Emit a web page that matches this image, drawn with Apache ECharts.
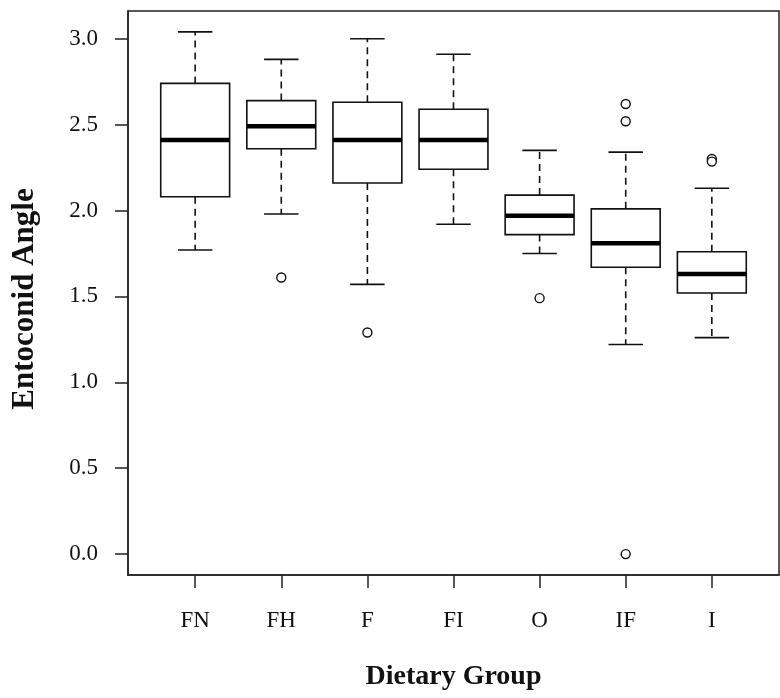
<!DOCTYPE html>
<html>
<head>
<meta charset="utf-8">
<script src="https://cdn.jsdelivr.net/npm/echarts@6/dist/echarts.min.js"></script>
<style>
  html, body { margin: 0; padding: 0; background: #fff; }
  #chart { width: 780px; height: 698px; }
</style>
</head>
<body>
<div id="chart"></div>
<script>
// Dietary groups, in plotting order
const groups = ['FN', 'FH', 'F', 'FI', 'O', 'IF', 'I'];

// Five-number summaries per group (entoconid angle)
const whiskerLow  = [1.77, 1.98, 1.57, 1.92, 1.75, 1.22, 1.26];
const quartile1   = [2.08, 2.36, 2.16, 2.24, 1.86, 1.67, 1.52];
const medians     = [2.41, 2.49, 2.41, 2.41, 1.97, 1.81, 1.63];
const quartile3   = [2.74, 2.64, 2.63, 2.59, 2.09, 2.01, 1.76];
const whiskerHigh = [3.04, 2.88, 3.00, 2.91, 2.35, 2.34, 2.13];

// Outlying observations: group index (0-based) and value
const outlierGroup = [1, 2, 4, 5, 5, 5, 6, 6];
const outlierValue = [1.61, 1.29, 1.49, 2.62, 2.52, 0.00, 2.30, 2.285];

// Y-axis tick values
const yTicks = [0.0, 0.5, 1.0, 1.5, 2.0, 2.5, 3.0];

const FONT = "'Liberation Serif', 'Times New Roman', serif";
const INK = '#111';

const boxData = groups.map((g, i) => [i + 1, whiskerLow[i], quartile1[i], medians[i], quartile3[i], whiskerHigh[i]]);
const outlierData = outlierGroup.map((g, k) => [g + 1, outlierValue[k]]);

function renderBox(params, api) {
  const x = api.value(0);
  const pMin = api.coord([x, api.value(1)]);
  const pQ1 = api.coord([x, api.value(2)]);
  const pMed = api.coord([x, api.value(3)]);
  const pQ3 = api.coord([x, api.value(4)]);
  const pMax = api.coord([x, api.value(5)]);
  const half = api.size([0.4, 0])[0];
  const cap = api.size([0.2, 0])[0];
  const cx = pMed[0];
  const solid = { stroke: INK, lineWidth: 1.6, fill: null };
  const dashed = { stroke: INK, lineWidth: 1.6, lineDash: [7, 5] };
  return {
    type: 'group',
    children: [
      { type: 'line', shape: { x1: cx, y1: pQ3[1], x2: cx, y2: pMax[1] }, style: dashed },
      { type: 'line', shape: { x1: cx, y1: pQ1[1], x2: cx, y2: pMin[1] }, style: dashed },
      { type: 'line', shape: { x1: cx - cap, y1: pMax[1], x2: cx + cap, y2: pMax[1] }, style: solid },
      { type: 'line', shape: { x1: cx - cap, y1: pMin[1], x2: cx + cap, y2: pMin[1] }, style: solid },
      { type: 'rect', shape: { x: cx - half, y: pQ3[1], width: half * 2, height: pQ1[1] - pQ3[1] },
        style: { stroke: INK, lineWidth: 1.6, fill: '#fff' } },
      { type: 'line', shape: { x1: cx - half, y1: pMed[1], x2: cx + half, y2: pMed[1] },
        style: { stroke: '#000', lineWidth: 4.5 } }
    ]
  };
}

const chart = echarts.init(document.getElementById('chart'), null, { renderer: 'canvas' });

chart.setOption({
  backgroundColor: '#fff',
  animation: false,
  grid: {
    left: 128, right: 1, top: 11, bottom: 123,
    show: true, borderColor: '#222', borderWidth: 1.5, backgroundColor: 'transparent'
  },
  xAxis: {
    type: 'value',
    min: 0.22, max: 7.78,
    name: 'Dietary Group',
    nameLocation: 'middle',
    nameGap: 88,
    nameTextStyle: { fontFamily: FONT, fontWeight: 'bold', fontSize: 28, color: INK },
    axisLine: { show: true, onZero: false, lineStyle: { color: '#222', width: 1.5 } },
    axisTick: { show: true, length: 13, customValues: groups.map((g, i) => i + 1), lineStyle: { color: '#222', width: 1.5 } },
    axisLabel: {
      customValues: groups.map((g, i) => i + 1),
      formatter: v => groups[Math.round(v) - 1] || '',
      fontFamily: FONT, fontSize: 23, color: INK, margin: 34
    },
    splitLine: { show: false }
  },
  yAxis: {
    type: 'value',
    min: -0.1216, max: 3.1616,
    name: 'Entoconid Angle',
    nameLocation: 'middle',
    nameGap: 88,
    nameTextStyle: { fontFamily: FONT, fontWeight: 'bold', fontSize: 31, color: INK, padding: [0, 12, 0, 0] },
    axisLine: { show: true, onZero: false, lineStyle: { color: '#222', width: 1.5 } },
    axisTick: { show: true, length: 13, customValues: yTicks, lineStyle: { color: '#222', width: 1.5 } },
    axisLabel: {
      customValues: yTicks,
      formatter: v => v.toFixed(1),
      fontFamily: FONT, fontSize: 23, color: INK, margin: 30
    },
    splitLine: { show: false }
  },
  series: [
    {
      type: 'custom',
      name: 'boxes',
      renderItem: renderBox,
      encode: { x: 0, y: [1, 2, 3, 4, 5] },
      data: boxData,
      z: 2
    },
    {
      type: 'scatter',
      name: 'outliers',
      data: outlierData,
      symbol: 'circle',
      symbolSize: 9,
      itemStyle: { color: '#fff', borderColor: INK, borderWidth: 1.4, opacity: 1 },
      z: 3
    }
  ]
});
</script>
</body>
</html>
